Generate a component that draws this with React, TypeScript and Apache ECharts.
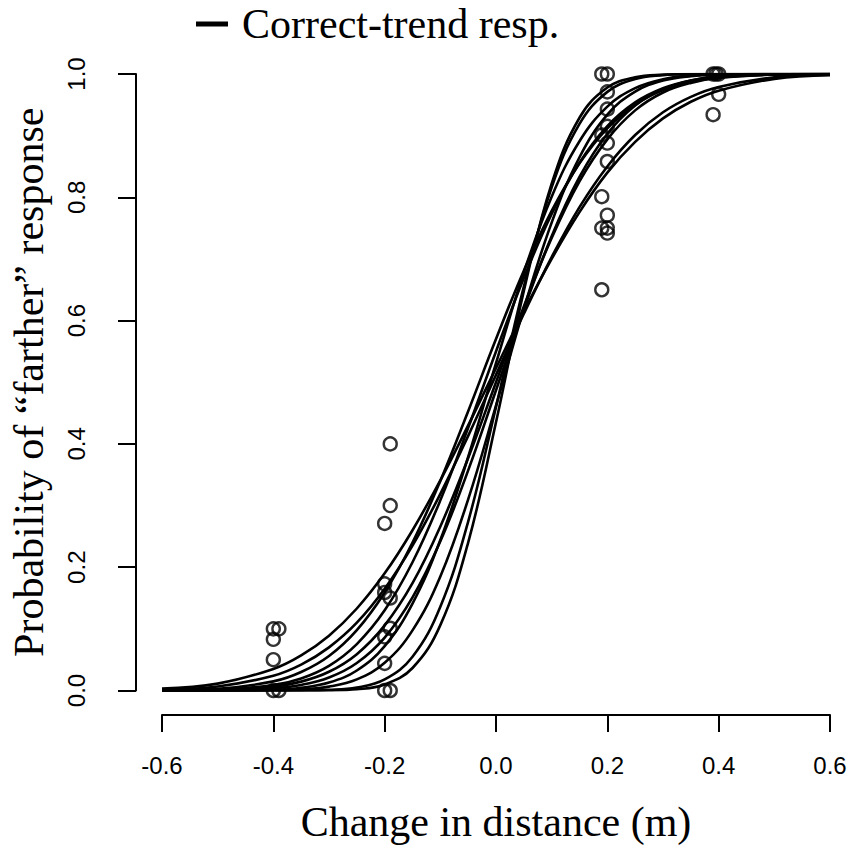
import React, { useEffect, useRef } from "react";
import * as echarts from "echarts";

// x positions at which the fitted psychometric curves were read
const xGrid = [-0.6, -0.5, -0.4, -0.35, -0.3, -0.25, -0.2, -0.15, -0.1, -0.05, 0, 0.05, 0.1, 0.15, 0.2, 0.25, 0.3, 0.35, 0.4, 0.5, 0.6];

// fitted curves (probability of "farther" response), one per listener
const curve1 = [0, 0, 0, 0, 0.0003, 0.002, 0.0097, 0.0365, 0.106, 0.24, 0.435, 0.648, 0.822, 0.929, 0.978, 0.9947, 0.999, 1, 1, 1, 1];
const curve2 = [0, 0, 0, 0.0002, 0.001, 0.0047, 0.0179, 0.0548, 0.136, 0.274, 0.46, 0.655, 0.816, 0.919, 0.971, 0.9918, 0.998, 0.9997, 1, 1, 1];
const curve3 = [0, 0, 0.0005, 0.0019, 0.0063, 0.018, 0.045, 0.0975, 0.185, 0.31, 0.462, 0.619, 0.759, 0.865, 0.934, 0.9715, 0.9894, 0.9966, 0.999, 1, 1];
const curve4 = [0, 0.0001, 0.0013, 0.0045, 0.0129, 0.0325, 0.072, 0.141, 0.244, 0.379, 0.531, 0.678, 0.801, 0.891, 0.947, 0.977, 0.9915, 0.9972, 0.9992, 1, 1];
const curve5 = [0, 0.0004, 0.0035, 0.009, 0.021, 0.0446, 0.0858, 0.151, 0.242, 0.357, 0.487, 0.618, 0.737, 0.833, 0.903, 0.949, 0.975, 0.9893, 0.9958, 0.9995, 1];
const curve6 = [0.0001, 0.0009, 0.0062, 0.0144, 0.0304, 0.059, 0.1056, 0.174, 0.266, 0.377, 0.5, 0.623, 0.734, 0.826, 0.894, 0.941, 0.97, 0.9856, 0.9938, 0.9991, 0.9999];
const curve7 = [0.0001, 0.0013, 0.0088, 0.0196, 0.04, 0.0753, 0.13, 0.208, 0.3085, 0.426, 0.55, 0.669, 0.773, 0.856, 0.9154, 0.954, 0.977, 0.9896, 0.9957, 0.9994, 1];
const curve8 = [0.0004, 0.0028, 0.0148, 0.03, 0.056, 0.098, 0.159, 0.24, 0.34, 0.453, 0.57, 0.681, 0.778, 0.855, 0.912, 0.95, 0.974, 0.987, 0.9943, 0.9991, 0.9999];
const curve9 = [0.0014, 0.0065, 0.024, 0.042, 0.07, 0.11, 0.165, 0.235, 0.319, 0.413, 0.512, 0.611, 0.703, 0.784, 0.85, 0.901, 0.938, 0.963, 0.979, 0.9945, 0.9988];
const curve10 = [0.003, 0.0112, 0.035, 0.057, 0.089, 0.133, 0.19, 0.26, 0.341, 0.43, 0.523, 0.615, 0.7, 0.776, 0.84, 0.89, 0.928, 0.955, 0.973, 0.992, 0.998];
const curves = [curve1, curve2, curve3, curve4, curve5, curve6, curve7, curve8, curve9, curve10];

// observed proportions (open circles)
const obsX = [
  -0.4, -0.39, -0.4, -0.4, -0.4, -0.39,
  -0.19, -0.19, -0.2, -0.2, -0.2, -0.19, -0.19, -0.2, -0.2, -0.2, -0.19,
  0.19, 0.2, 0.2, 0.2, 0.2, 0.19, 0.2, 0.2, 0.2, 0.19, 0.2, 0.19, 0.2, 0.19,
  0.39, 0.4, 0.395, 0.4, 0.39,
];
const obsY = [
  0.1, 0.1, 0.083, 0.05, 0, 0,
  0.4, 0.3, 0.271, 0.173, 0.159, 0.15, 0.101, 0.087, 0.044, 0, 0,
  1, 1, 0.971, 0.943, 0.915, 0.901, 0.888, 0.858, 0.771, 0.801, 0.742, 0.75, 0.75, 0.65,
  1, 1, 1, 0.967, 0.934,
];

const xTicks = { min: -0.6, max: 0.6, interval: 0.2 };
const yTicks = { min: 0, max: 1, interval: 0.2 };
const legendLabel = "Correct-trend resp.";
const xTitle = "Change in distance (m)";
const yTitle = "Probability of \u201cfarther\u201d response";

export default function App() {
  const ref = useRef<HTMLDivElement>(null);
  useEffect(() => {
    if (!ref.current) return;
    const chart = echarts.init(ref.current, undefined, { renderer: "svg" });
    const serif = "'Liberation Serif', 'Times New Roman', serif";
    const sans = "'Liberation Sans', Arial, Helvetica, sans-serif";
    const lineSeries = curves.map((c) => ({
      name: legendLabel,
      type: "line",
      data: xGrid.map((x, i) => [x, c[i]]),
      smooth: 0.4,
      showSymbol: false,
      symbol: "none",
      lineStyle: { color: "#000", width: 2.6 },
      itemStyle: { color: "#000" },
      z: 3,
    }));
    chart.setOption({
      animation: false,
      backgroundColor: "#fff",
      grid: { left: 162, right: 20, top: 74, bottom: 158.5, containLabel: false },
      legend: {
        data: [legendLabel],
        left: 196,
        top: 3,
        padding: 0,
        icon: "rect",
        itemWidth: 32,
        itemHeight: 5,
        selectedMode: false,
        textStyle: { fontFamily: serif, fontSize: 42, color: "#000", padding: [0, 0, 0, 9] },
      },
      xAxis: {
        type: "value",
        min: xTicks.min,
        max: xTicks.max,
        interval: xTicks.interval,
        offset: 24.5,
        axisLine: { show: true, onZero: false, lineStyle: { color: "#000", width: 2 } },
        axisTick: { show: true, length: 17, lineStyle: { color: "#000", width: 2 } },
        axisLabel: {
          margin: 38,
          fontFamily: sans,
          fontSize: 24,
          color: "#000",
          formatter: (v: number) => v.toFixed(1),
        },
        splitLine: { show: false },
        name: xTitle,
        nameLocation: "middle",
        nameGap: 86,
        nameTextStyle: { fontFamily: serif, fontSize: 42, color: "#000" },
      },
      yAxis: {
        type: "value",
        min: yTicks.min,
        max: yTicks.max,
        interval: yTicks.interval,
        offset: 26,
        axisLine: { show: true, onZero: false, lineStyle: { color: "#000", width: 2 } },
        axisTick: { show: true, length: 18, lineStyle: { color: "#000", width: 2 } },
        axisLabel: {
          margin: 48,
          rotate: 90,
          fontFamily: sans,
          fontSize: 24,
          color: "#000",
          formatter: (v: number) => v.toFixed(1),
        },
        splitLine: { show: false },
        name: yTitle,
        nameLocation: "middle",
        nameGap: 86,
        nameTextStyle: { fontFamily: serif, fontSize: 42, color: "#000" },
      },
      series: [
        ...lineSeries,
        {
          name: "Observed",
          type: "scatter",
          data: obsX.map((x, i) => [x, obsY[i]]),
          symbol: "circle",
          symbolSize: 13,
          itemStyle: { color: "rgba(0,0,0,0)", borderColor: "#000", borderWidth: 2.4 },
          z: 4,
        },
      ],
    });
    return () => chart.dispose();
  }, []);
  return <div ref={ref} style={{ position: "absolute", left: 0, top: 0, width: 850, height: 849 }} />;
}
